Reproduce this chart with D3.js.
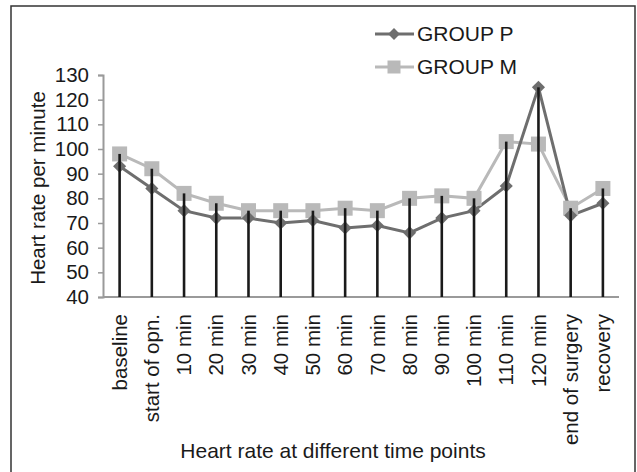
<!DOCTYPE html>
<html>
<head>
<meta charset="utf-8">
<script src="https://cdn.jsdelivr.net/npm/d3@7"></script>
<style>
  body { margin: 0; background: #fff; }
  text { font-family: "Liberation Sans", Arial, sans-serif; fill: #1a1a1a; }
</style>
</head>
<body>
<div id="chart"></div>
<script>
const timePoints = ["baseline", "start of opn.", "10 min", "20 min", "30 min", "40 min",
  "50 min", "60 min", "70 min", "80 min", "90 min", "100 min", "110 min", "120 min",
  "end of surgery", "recovery"];
const groupP = [93, 84, 75, 72, 72, 70, 71, 68, 69, 66, 72, 75, 85, 125, 73, 78];
const groupM = [98, 92, 82, 78, 75, 75, 75, 76, 75, 80, 81, 80, 103, 102, 76, 84];
const yTicks = [40, 50, 60, 70, 80, 90, 100, 110, 120, 130];

const width = 637;
const height = 472;
const fontSize = "20.5px";
const titleSize = "21px";

const pColor = "#6e6e6e";
const mColor = "#b9b9b9";
const axisColor = "#9a9a9a";

const svg = d3.select("div#chart")
  .append("svg")
  .attr("width", width)
  .attr("height", height);

// outer frame (bottom edge falls outside the picture)
svg.append("rect")
  .attr("x", 11).attr("y", 6)
  .attr("width", 624).attr("height", 480)
  .attr("fill", "none")
  .attr("stroke", "#333")
  .attr("stroke-width", 1.5);

const x = d3.scaleBand()
  .domain(timePoints)
  .range([103.5, 619]);

const y = d3.scaleLinear()
  .domain([40, 130])
  .range([297, 75]);

const cx = d => x(d) + x.bandwidth() / 2;

// y axis
const yAxis = svg.append("g")
  .attr("transform", "translate(103,0)")
  .call(d3.axisLeft(y).tickValues(yTicks).tickSize(5).tickPadding(9));
yAxis.select(".domain").attr("stroke", axisColor).attr("stroke-width", 2);
yAxis.selectAll(".tick line").attr("stroke", axisColor).attr("stroke-width", 1.5);
yAxis.selectAll(".tick text")
  .style("font-size", fontSize)
  .attr("fill", "#1a1a1a");

// x axis line
svg.append("line")
  .attr("x1", 103).attr("x2", 619)
  .attr("y1", y(40)).attr("y2", y(40))
  .attr("stroke", axisColor)
  .attr("stroke-width", 2);

// x tick labels, rotated
svg.selectAll("text.xlabel")
  .data(timePoints)
  .enter()
  .append("text")
  .attr("class", "xlabel")
  .attr("transform", d => `translate(${cx(d)},314) rotate(-90)`)
  .attr("text-anchor", "end")
  .attr("dy", "0.35em")
  .style("font-size", fontSize)
  .text(d => d);

function addLine(values, color) {
  const line = d3.line()
    .x((v, i) => cx(timePoints[i]))
    .y(v => y(v));
  svg.append("path")
    .datum(values)
    .attr("d", line)
    .attr("fill", "none")
    .attr("stroke", color)
    .attr("stroke-width", 3);
}

addLine(groupM, mColor);
addLine(groupP, pColor);

svg.selectAll("rect.mark")
  .data(groupM)
  .enter()
  .append("rect")
  .attr("class", "mark")
  .attr("x", (v, i) => cx(timePoints[i]) - 7.5)
  .attr("y", v => y(v) - 7.5)
  .attr("width", 15)
  .attr("height", 15)
  .attr("fill", mColor);

const diamond = d3.symbol().type(d3.symbolDiamond2).size(110);
svg.selectAll("path.mark")
  .data(groupP)
  .enter()
  .append("path")
  .attr("class", "mark")
  .attr("d", diamond)
  .attr("transform", (v, i) => `translate(${cx(timePoints[i])},${y(v)})`)
  .attr("fill", pColor);

// drop lines from the higher of the two values down to the axis
svg.selectAll("line.drop")
  .data(timePoints)
  .enter()
  .append("line")
  .attr("class", "drop")
  .attr("x1", d => cx(d)).attr("x2", d => cx(d))
  .attr("y1", (d, i) => y(Math.max(groupP[i], groupM[i])))
  .attr("y2", y(40))
  .attr("stroke", "#1a1a1a")
  .attr("stroke-width", 2.6);

// axis titles
svg.append("text")
  .attr("transform", `translate(45,${(y(40) + y(130)) / 2 + 2}) rotate(-90)`)
  .attr("text-anchor", "middle")
  .style("font-size", fontSize)
  .text("Heart rate per minute");

svg.append("text")
  .attr("x", 333)
  .attr("y", 458)
  .attr("text-anchor", "middle")
  .style("font-size", titleSize)
  .text("Heart rate at different time points");

// legend
const legend = [
  { name: "GROUP P", color: pColor, shape: "diamond" },
  { name: "GROUP M", color: mColor, shape: "square" }
];
const leg = svg.selectAll("g.legend")
  .data(legend)
  .enter()
  .append("g")
  .attr("class", "legend")
  .attr("transform", (d, i) => `translate(0,${34 + i * 33})`);
leg.append("line")
  .attr("x1", 375).attr("x2", 414)
  .attr("y1", 0).attr("y2", 0)
  .attr("stroke", d => d.color)
  .attr("stroke-width", 3);
leg.filter(d => d.shape === "diamond")
  .append("path")
  .attr("d", d3.symbol().type(d3.symbolDiamond2).size(90))
  .attr("transform", "translate(394,0)")
  .attr("fill", d => d.color);
leg.filter(d => d.shape === "square")
  .append("rect")
  .attr("x", 387.5).attr("y", -6.5)
  .attr("width", 13).attr("height", 13)
  .attr("fill", d => d.color);
leg.append("text")
  .attr("x", 417)
  .attr("y", 7)
  .style("font-size", titleSize)
  .text(d => d.name);
</script>
</body>
</html>
